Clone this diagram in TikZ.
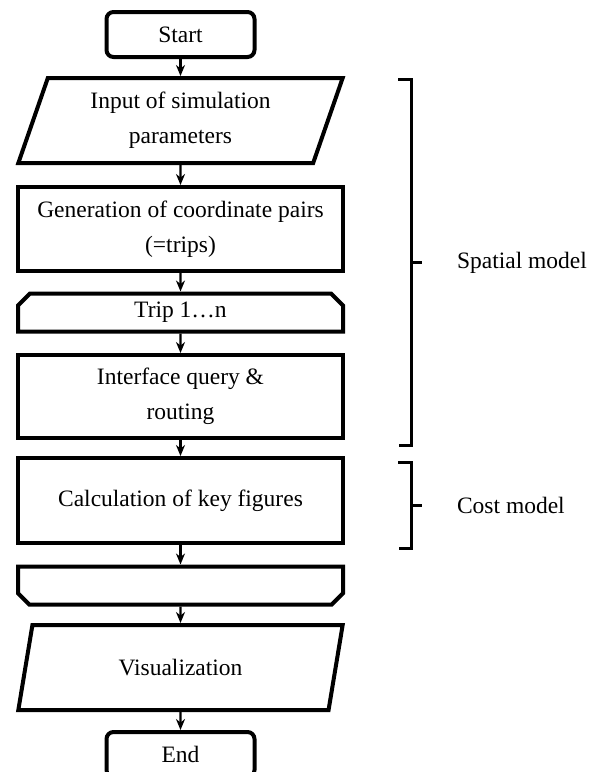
\documentclass[tikz,border=0pt]{standalone}
\usepackage{fontspec}
\setmainfont{Liberation Serif}
\usetikzlibrary{arrows.meta,shapes.geometric,shapes.misc}

\begin{document}
\begin{tikzpicture}[x=1pt, y=-1pt,
	box/.style={shape=rectangle, draw=black, line width=4pt, minimum width=325pt, inner sep=0pt, align=center},
	terminal/.style={box, rounded corners=7pt, minimum width=148pt, minimum height=45pt},
	io/.style={shape=trapezium, draw=black, line width=4pt, trapezium left angle=70.5, trapezium right angle=109.5,
		trapezium stretches=true, minimum width=325pt, minimum height=85pt, inner sep=0pt, align=center},
	loopbox/.style={shape=chamfered rectangle, draw=black, line width=4pt, chamfered rectangle xsep=6pt,
		chamfered rectangle ysep=6pt, minimum width=325pt, minimum height=38pt, inner sep=0pt},
	flow/.style={-{Stealth[length=11pt,width=9pt]}, line width=2.2pt},
	bracket/.style={line width=3pt}]
	\useasboundingbox (0,0) rectangle (598,772);
	\fontsize{23.5}{35}\selectfont

	\node[terminal]                 (start)   at (180.5,34.5)  {Start};
	\node[io]                       (input)   at (180.5,120.5) {Input of simulation\\parameters};
	\node[box, minimum height=84pt] (gen)     at (180.5,229)   {Generation of coordinate pairs\\(=trips)};
	\node[loopbox, chamfered rectangle corners={north west,north east}]
	                                (trip)    at (180.5,312.5) {Trip 1\ldots n};
	\node[box, minimum height=83pt] (iface)   at (180.5,396.5) {Interface query \&\\routing};
	\node[box, minimum height=85pt] (calc)    at (180.5,500.5) {Calculation of key figures};
	\node[loopbox, chamfered rectangle corners={south west,south east}]
	                                (loopend) at (180.5,585.5) {\phantom{x}};
	\node[io]                       (vis)     at (180.5,667.5) {Visualization};
	\node[terminal]                 (end)     at (180.5,754.5) {End};

	\path [flow] (start)   edge (input);
	\path [flow] (input)   edge (gen);
	\path [flow] (gen)     edge (trip);
	\path [flow] (trip)    edge (iface);
	\path [flow] (iface)   edge (calc);
	\path [flow] (calc)    edge (loopend);
	\path [flow] (loopend) edge (vis);
	\path [flow] (vis)     edge (end);

	% model brackets
	\draw [bracket] (398,79) -- (411,79) -- (411,445) -- (399,445);
	\draw [bracket] (411,262) -- (422,262);
	\draw [bracket] (398,462) -- (411,462) -- (411,548) -- (399,548);
	\draw [bracket] (411,505) -- (422,505);

	\node[anchor=west] (spatial) at (449,263) {Spatial model};
	\node[anchor=west] (cost)    at (449,505) {Cost model};
\end{tikzpicture}
\end{document}
